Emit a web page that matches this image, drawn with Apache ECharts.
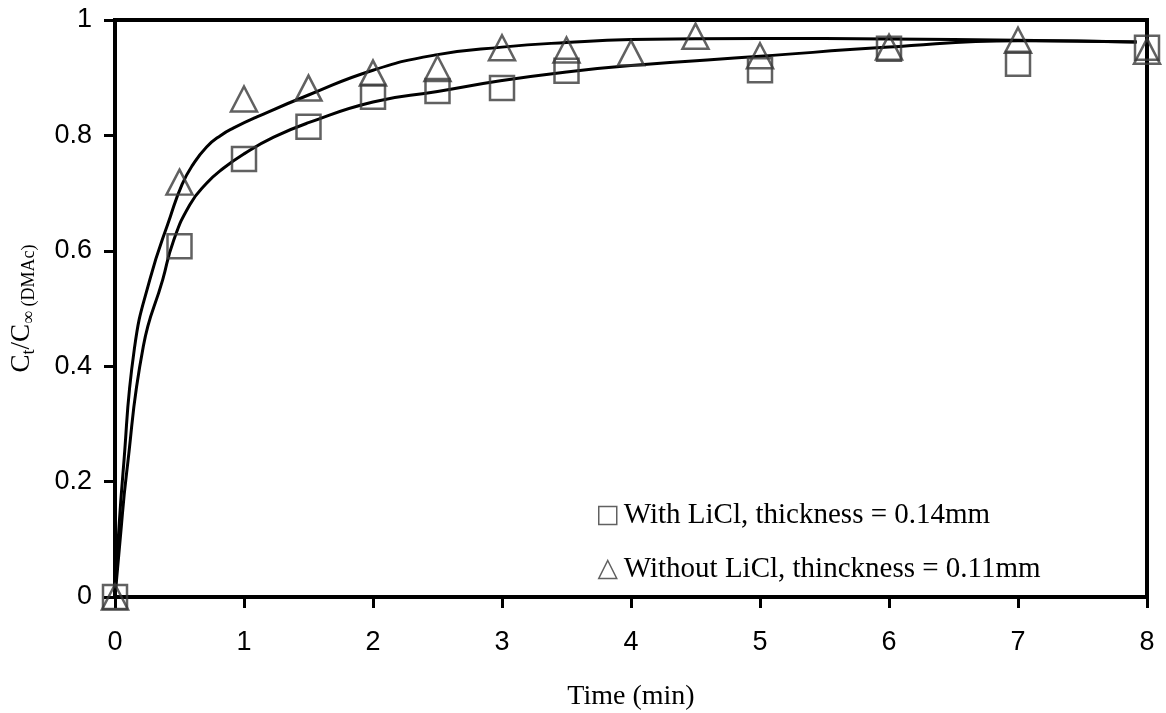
<!DOCTYPE html>
<html>
<head>
<meta charset="utf-8">
<script src="https://cdn.jsdelivr.net/npm/echarts@6/dist/echarts.min.js"></script>
<style>
  html, body { margin: 0; padding: 0; background: #fff; }
  #chart { width: 1166px; height: 713px; }
</style>
</head>
<body>
<div id="chart"></div>
<script>
  /* measured points */
  var timeWith = [0, 0.5, 1, 1.5, 2, 2.5, 3, 3.5, 5, 6, 7, 8];
  var valWith = [0, 0.608, 0.759, 0.815, 0.867, 0.877, 0.882, 0.912, 0.913, 0.950, 0.924, 0.952];

  var timeWithout = [0, 0.5, 1, 1.5, 2, 2.5, 3, 3.5, 4, 4.5, 5, 6, 7, 8];
  var valWithout = [0, 0.719, 0.863, 0.882, 0.908, 0.916, 0.952, 0.948, 0.943, 0.972, 0.938, 0.953, 0.965, 0.946];

  /* fitted curves */
  var fitTimeWith = [0, 0.04, 0.09, 0.22, 0.37, 0.45, 0.58, 0.71, 0.84, 1.0, 1.23, 1.5, 2.0, 2.5, 3.0, 3.5, 4.0, 5.0, 6.0, 7.0, 7.92];
  var fitValWith = [0, 0.10, 0.215, 0.435, 0.55, 0.615, 0.68, 0.717, 0.743, 0.768, 0.797, 0.822, 0.858, 0.876, 0.895, 0.91, 0.921, 0.937, 0.953, 0.964, 0.962];

  var fitTimeWithout = [0, 0.025, 0.062, 0.15, 0.27, 0.43, 0.52, 0.6, 0.71, 0.82, 0.92, 1.1, 1.5, 2.0, 2.5, 3.0, 3.5, 4.0, 5.0, 6.0, 7.0, 7.92];
  var fitValWithout = [0, 0.10, 0.215, 0.43, 0.55, 0.66, 0.715, 0.748, 0.78, 0.80, 0.813, 0.832, 0.87, 0.913, 0.94, 0.953, 0.961, 0.966, 0.968, 0.967, 0.965, 0.962];

  var nameWith = 'With LiCl, thickness = 0.14mm';
  var nameWithout = 'Without LiCl, thinckness = 0.11mm';

  function pairs(xs, ys) {
    return xs.map(function (x, i) { return [x, ys[i]]; });
  }

  var markColor = '#3a3a3a';
  var chart = echarts.init(document.getElementById('chart'));
  var option = {
    animation: false,
    grid: {
      left: 115, right: 19, top: 20, bottom: 116,
      outerBoundsMode: 'none',
      show: true, borderColor: '#000', borderWidth: 4
    },
    legend: {
      orient: 'vertical',
      left: 593,
      top: 496,
      itemWidth: 18,
      itemHeight: 18,
      itemGap: 25,
      textStyle: { fontFamily: 'Liberation Serif', fontSize: 29, color: '#000', lineHeight: 29, padding: [0, 0, 0, 2] },
      data: [
        { name: nameWith, icon: 'rect', itemStyle: { color: 'transparent', borderColor: markColor, borderWidth: 1.5 } },
        { name: nameWithout, icon: 'triangle', itemStyle: { color: 'transparent', borderColor: markColor, borderWidth: 1.5 } }
      ]
    },
    xAxis: {
      type: 'value',
      min: 0, max: 8, interval: 1,
      name: 'Time (min)',
      nameLocation: 'middle',
      nameGap: 86,
      nameTextStyle: { fontFamily: 'Liberation Serif', fontSize: 28, color: '#000' },
      axisLine: { lineStyle: { color: '#000', width: 4 } },
      axisTick: { length: 11, lineStyle: { color: '#000', width: 3 } },
      axisLabel: { fontFamily: 'Liberation Sans', fontSize: 27, color: '#000', margin: 32 },
      splitLine: { show: false }
    },
    yAxis: {
      type: 'value',
      min: 0, max: 1, interval: 0.2,
      name: '{a|C}{s|t}{a|/C}{s|∞ (DMAc)}',
      nameLocation: 'middle',
      nameGap: 80,
      nameTextStyle: {
        color: '#000',
        fontFamily: 'Liberation Serif',
        fontSize: 26,
        rich: {
          a: { fontFamily: 'Liberation Serif', fontSize: 27, color: '#000', verticalAlign: 'bottom', lineHeight: 30 },
          s: { fontFamily: 'Liberation Serif', fontSize: 18, color: '#000', verticalAlign: 'bottom', lineHeight: 30, padding: [0, 0, -3, 0] }
        }
      },
      axisLine: { lineStyle: { color: '#000', width: 4 } },
      axisTick: { length: 11, lineStyle: { color: '#000', width: 3 } },
      axisLabel: { fontFamily: 'Liberation Sans', fontSize: 27, color: '#000', margin: 23 },
      splitLine: { show: false }
    },
    series: [{
      name: 'fitWith',
      type: 'line',
      data: pairs(fitTimeWith, fitValWith),
      showSymbol: false,
      smooth: 0.5,
      lineStyle: { color: '#000', width: 3 },
      z: 2
    }, {
      name: 'fitWithout',
      type: 'line',
      data: pairs(fitTimeWithout, fitValWithout),
      showSymbol: false,
      smooth: 0.5,
      lineStyle: { color: '#000', width: 3 },
      z: 2
    }, {
      name: nameWith,
      type: 'scatter',
      data: pairs(timeWith, valWith),
      symbol: 'rect',
      symbolSize: 24,
      itemStyle: { color: 'transparent', borderColor: markColor, borderWidth: 2.5 },
      z: 3
    }, {
      name: nameWithout,
      type: 'scatter',
      data: pairs(timeWithout, valWithout),
      symbol: 'triangle',
      symbolSize: [26, 25],
      itemStyle: { color: 'transparent', borderColor: markColor, borderWidth: 2.5 },
      z: 3
    }]
  };
  chart.setOption(option);
</script>
</body>
</html>
